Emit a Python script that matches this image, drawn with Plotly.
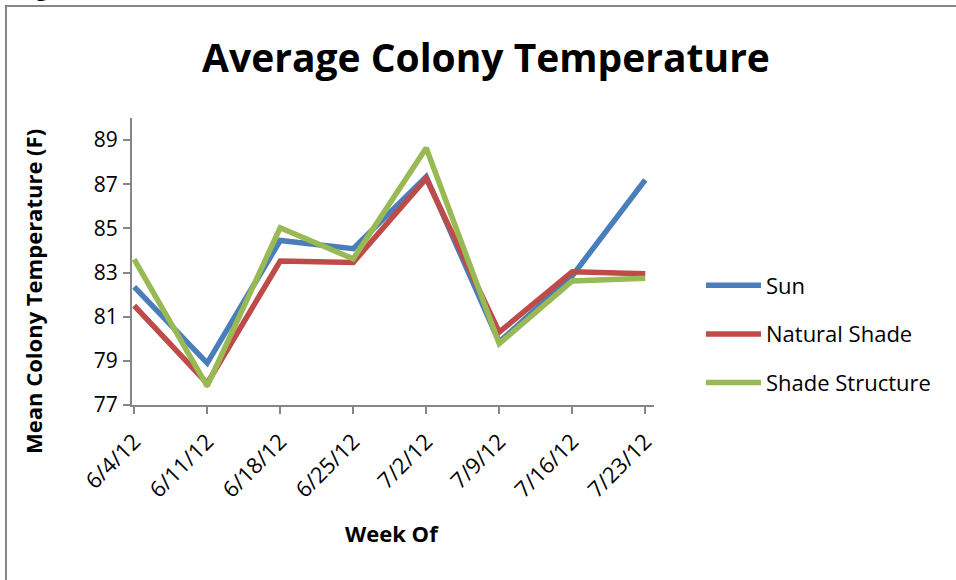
import plotly.graph_objects as go

weeks = ["6/4/12", "6/11/12", "6/18/12", "6/25/12", "7/2/12", "7/9/12", "7/16/12", "7/23/12"]
sun = [82.35, 78.9, 84.45, 84.08, 87.34, 79.85, 82.85, 87.2]
natural_shade = [81.5, 77.98, 83.52, 83.46, 87.26, 80.3, 83.04, 82.95]
shade_structure = [83.6, 77.86, 85.03, 83.62, 88.64, 79.78, 82.62, 82.74]
y_ticks = [77, 79, 81, 83, 85, 87, 89]

series = [
    ("Sun", sun, "#4A7EBB"),
    ("Natural Shade", natural_shade, "#BE4B48"),
    ("Shade Structure", shade_structure, "#98B954"),
]

fig = go.Figure()
for name, vals, col in series:
    fig.add_trace(go.Scatter(
        x=list(range(len(weeks))), y=vals, name=name, mode="lines",
        legendgroup=name,
        line=dict(color=col, width=5.5),
    ))

font_family = "Open Sans, Liberation Sans, sans-serif"
L, R, T, B = 132, 302, 118, 175
W, H = 956, 580
pw, ph = W - L - R, H - T - B


def px_x(p):
    return (p - L) / pw


def px_y(p):
    return (H - B - p) / ph


fig.update_layout(
    width=W, height=H,
    margin=dict(l=L, r=R, t=T, b=B),
    paper_bgcolor="white", plot_bgcolor="white",
    font=dict(family=font_family, color="black"),
    title=dict(text="<b>Average Colony Temperature</b>", x=486 / W, xanchor="center",
               y=1 - 58 / H, yanchor="middle", font=dict(size=39, color="black")),
    showlegend=True,
    legend=dict(x=px_x(701), xanchor="left", y=px_y(334), yanchor="middle",
                font=dict(size=22, color="black"), tracegroupgap=17,
                itemwidth=55, bgcolor="rgba(0,0,0,0)"),
    xaxis=dict(
        range=[-0.03, 7.12],
        tickmode="array", tickvals=list(range(len(weeks))), ticktext=weeks,
        tickangle=-45, tickfont=dict(size=22, color="black"),
        ticklabelstandoff=6,
        showline=True, linecolor="#868686", linewidth=2,
        ticks="outside", ticklen=7, tickcolor="#868686", tickwidth=2,
        showgrid=False, zeroline=False,
    ),
    yaxis=dict(
        range=[77, 90],
        tickmode="array", tickvals=y_ticks,
        tickfont=dict(size=21, color="black"),
        ticklabelstandoff=1,
        showline=True, linecolor="#868686", linewidth=2,
        ticks="outside", ticklen=7, tickcolor="#868686", tickwidth=2,
        showgrid=False, zeroline=False,
    ),
)

# axis titles
fig.add_annotation(text="<b>Week Of</b>", xref="paper", yref="paper",
                   x=px_x(392), y=px_y(533), xanchor="center", yanchor="middle",
                   showarrow=False, font=dict(size=22, color="black"))
fig.add_annotation(text="<b>Mean Colony Temperature (F)</b>", xref="paper", yref="paper",
                   x=px_x(33), y=px_y(292), xanchor="center", yanchor="middle",
                   textangle=-90, showarrow=False, font=dict(size=22, color="black"))
# cropped caption glyph at the very top (as in the source image)
fig.add_annotation(text="<b>g</b>", xref="paper", yref="paper",
                   x=px_x(42), y=px_y(-13), xanchor="center", yanchor="middle",
                   showarrow=False, font=dict(size=22, color="black"))

# outer chart border
fig.add_shape(type="rect", xref="paper", yref="paper",
              x0=px_x(6), x1=px_x(W + 10),
              y0=px_y(H + 10), y1=px_y(6),
              line=dict(color="#868686", width=2), fillcolor="rgba(0,0,0,0)", layer="below")

fig.write_html("out.html", config={"displayModeBar": False},
               post_script="document.body.style.margin='0';")
